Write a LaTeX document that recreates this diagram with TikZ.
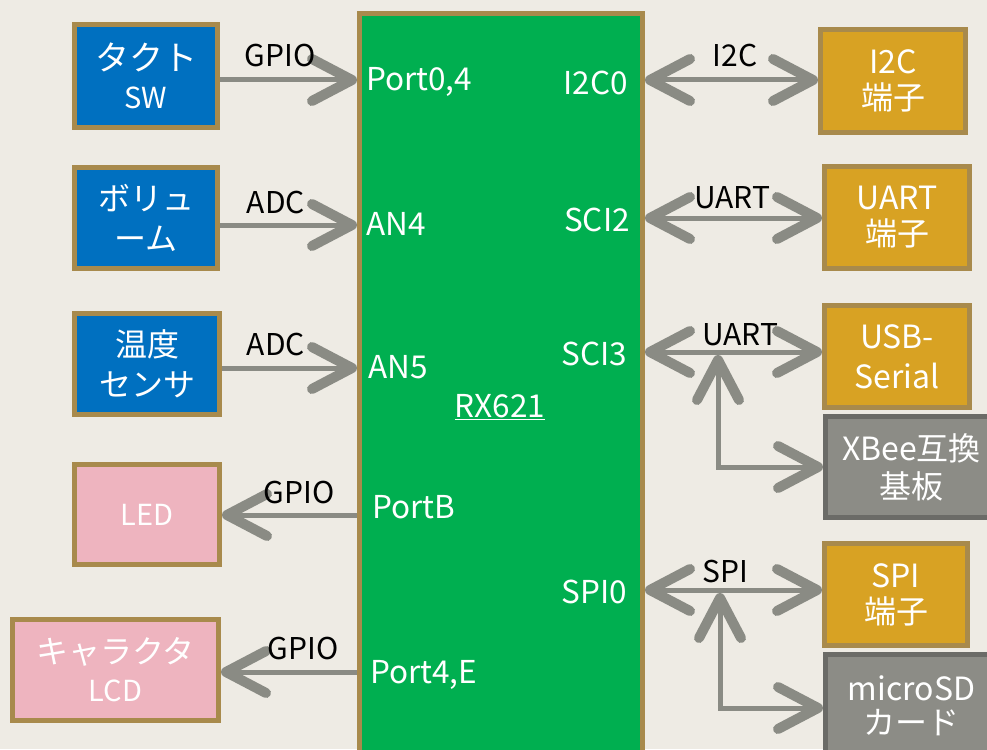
\documentclass[tikz,border=0pt]{standalone}
\usepackage{fontspec}
\setmainfont{Noto Sans CJK JP}
\usetikzlibrary{arrows.meta}
\definecolor{bg}{HTML}{EEEBE4}
\definecolor{brd}{HTML}{A88A4C}
\definecolor{bluef}{HTML}{0070C0}
\definecolor{pinkf}{HTML}{EEB4BF}
\definecolor{greenf}{HTML}{00AF50}
\definecolor{goldf}{HTML}{D8A223}
\definecolor{greyf}{HTML}{8C8C86}
\definecolor{greyb}{HTML}{6B6B67}
\definecolor{agrey}{HTML}{8A8B84}
\tikzset{
  box/.style={draw=brd, line width=5pt, inner sep=0pt, text=white, align=center,
    font=\fontsize{32}{40}\selectfont},
  bluebox/.style={box, fill=bluef},
  pinkbox/.style={box, fill=pinkf},
  goldbox/.style={box, fill=goldf},
  greybox/.style={box, fill=greyf, draw=greyb},
  portlbl/.style={text=white, inner sep=0pt, font=\fontsize{31.5}{36}\selectfont},
  sig/.style={text=black, inner sep=0pt, anchor=base, font=\fontsize{30}{36}\selectfont},
  barb/.tip={Straight Barb[length=40pt, width=42pt, line width=10pt, round]},
  arr/.style={draw=agrey, line width=5pt, -barb},
  dblarr/.style={draw=agrey, line width=5pt, barb-barb},
}
\begin{document}
\begin{tikzpicture}[x=1pt,y=-1pt]
\clip (0,0) rectangle (987,749);
\fill[bg] (0,0) rectangle (987,749);

% main chip
\node[draw=brd, fill=greenf, line width=5pt, minimum width=283pt, minimum height=800pt, inner sep=0pt] (rx) at (501,413.5) {};
\node[portlbl, anchor=base] (rxname) at (500,417) {\underline{RX621}};
\node[portlbl, anchor=base west] (p04) at (366,91) {Port0,4};
\node[portlbl, anchor=base west] (an4) at (366,235) {AN4};
\node[portlbl, anchor=base west] (an5) at (368,378) {AN5};
\node[portlbl, anchor=base west] (pb) at (372,518) {PortB};
\node[portlbl, anchor=base west] (p4e) at (370,683) {Port4,E};
\node[portlbl, anchor=base east] (i2c0) at (628,95) {I2C0};
\node[portlbl, anchor=base east] (sci2) at (630,231) {SCI2};
\node[portlbl, anchor=base east] (sci3) at (627,365) {SCI3};
\node[portlbl, anchor=base east] (spi0) at (627,603) {SPI0};

% left boxes
\node[bluebox, minimum width=143pt, minimum height=103pt] (tact) at (146,76) {\fontsize{34}{44}\selectfont タクト\\[-2pt]{\fontsize{29}{36}\selectfont SW}};
\node[bluebox, minimum width=143pt, minimum height=101pt] (vol) at (146,218) {ボリュ\\ーム};
\node[bluebox, minimum width=145pt, minimum height=101pt] (temp) at (147,364) {温度\\センサ};
\node[pinkbox, minimum width=145pt, minimum height=100pt] (led) at (147,514.5) {{\fontsize{29}{36}\selectfont LED}};
\node[pinkbox, minimum width=206pt, minimum height=101pt] (lcd) at (115.5,670) {キャラクタ\\[-2pt]{\fontsize{29}{36}\selectfont LCD}};

% right boxes
\node[goldbox, minimum width=145pt, minimum height=103pt] (i2c) at (893,81) {I2C\\[-4pt]端子};
\node[goldbox, minimum width=145pt, minimum height=102pt] (uart) at (897,217.5) {UART\\[-4pt]端子};
\node[goldbox, minimum width=145pt, minimum height=102pt] (usb) at (897,356.5) {USB-\\Serial};
\node[greybox, minimum width=172pt, minimum height=101pt] (xbee) at (911.5,467) {XBee互換\\[-2pt]基板};
\node[goldbox, minimum width=143pt, minimum height=102pt] (spi) at (896,594.5) {SPI\\[-4pt]端子};
\node[greybox, minimum width=172pt, minimum height=103pt] (sd) at (911.5,706) {microSD\\[-6pt]カード};

% left connectors
\draw[arr] (tact.east |- 0,80) -- (rx.west |- 0,80);
\draw[arr] (vol.east |- 0,225) -- (rx.west |- 0,225);
\draw[arr] (temp.east |- 0,368) -- (rx.west |- 0,368);
\draw[arr] (rx.west |- 0,515) -- (led.east |- 0,515);
\draw[arr] (rx.west |- 0,672) -- (lcd.east |- 0,672);
\node[sig] (l1) at (280,67) {GPIO};
\node[sig] (l2) at (276,213) {ADC};
\node[sig] (l3) at (276,355) {ADC};
\node[sig] (l4) at (299,503) {GPIO};
\node[sig] (l5) at (303,659) {GPIO};

% right connectors
\draw[dblarr] (rx.east |- 0,80) -- (i2c.west |- 0,80);
\draw[dblarr] (rx.east |- 0,218) -- (uart.west |- 0,218);
\draw[dblarr] (rx.east |- 0,352) -- (usb.west |- 0,352);
\draw[dblarr] (rx.east |- 0,590) -- (spi.west |- 0,590);
\coordinate (j1) at (718,355);
\coordinate (j2) at (720,593);
\draw[dblarr] (j1) |- (xbee.west);
\draw[dblarr] (j2) |- (sd.west |- 0,708);
\node[sig] (r1) at (735,67) {I2C};
\node[sig] (r2) at (732,208) {UART};
\node[sig] (r3) at (740,345) {UART};
\node[sig] (r4) at (725,582) {SPI};
\end{tikzpicture}
\end{document}
